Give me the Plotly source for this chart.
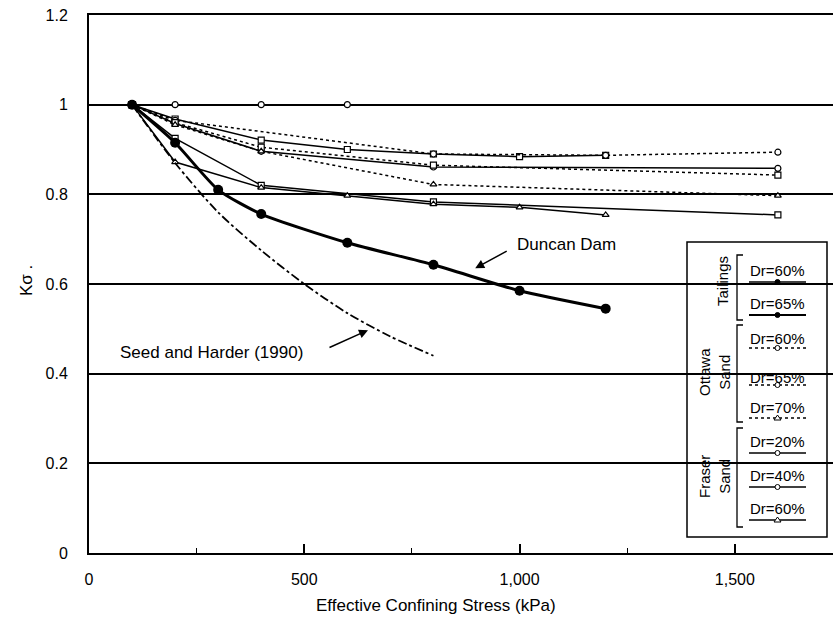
import plotly.graph_objects as go

# ---------------- data ----------------
duncan_x = [100, 200, 300, 400, 600, 800, 1000, 1200]
duncan_y = [1.0, 0.915, 0.81, 0.756, 0.692, 0.643, 0.585, 0.545]

seed_x = [100, 200, 300, 400, 500, 600, 700, 800]
seed_y = [1.0, 0.87, 0.76, 0.675, 0.6, 0.535, 0.483, 0.44]

tail60_x = [100, 200, 400, 600, 800, 1000, 1200]
tail60_y = [1.0, 0.968, 0.921, 0.90, 0.89, 0.884, 0.887]

tail65_x = [100, 200, 400, 800, 1600]
tail65_y = [1.0, 0.958, 0.896, 0.861, 0.858]

ott60_x = [100, 200, 800, 1200, 1600]
ott60_y = [1.0, 0.965, 0.89, 0.887, 0.894]

ott65_x = [100, 200, 400, 800, 1600]
ott65_y = [1.0, 0.96, 0.905, 0.865, 0.843]

ott70_x = [100, 200, 400, 800, 1600]
ott70_y = [1.0, 0.955, 0.896, 0.822, 0.797]

fr20_x = [100, 200, 400, 600]
fr20_y = [1.0, 1.0, 1.0, 1.0]

fr40_x = [100, 200, 400, 800, 1600]
fr40_y = [1.0, 0.925, 0.82, 0.783, 0.754]

fr60_x = [100, 200, 400, 600, 800, 1000, 1200]
fr60_y = [1.0, 0.872, 0.815, 0.797, 0.778, 0.771, 0.754]

y_ticks = [0, 0.2, 0.4, 0.6, 0.8, 1.0, 1.2]
y_ticktext = ["0", "0.2", "0.4", "0.6", "0.8", "1", "1.2"]
x_ticks = [0, 500, 1000, 1500]
x_ticktext = ["0", "500", "1,000", "1,500"]

legend_groups = ["Tailings", "Ottawa<br>Sand", "Fraser<br>Sand"]
legend_labels = ["Dr=60%", "Dr=65%", "Dr=60%", "Dr=65%", "Dr=70%", "Dr=20%", "Dr=40%", "Dr=60%"]

# ---------------- figure ----------------
W, H = 833, 634
L, R, T, B = 89, 0, 15, 81
FONT = "Liberation Sans, Arial, sans-serif"
INK = "#000000"

fig = go.Figure()

def thin(x, y, dash, symbol, name):
    fig.add_trace(go.Scatter(
        x=x, y=y, mode="lines+markers", name=name,
        line=dict(color=INK, width=1.5, dash=dash),
        marker=dict(symbol=symbol, size=6, color="white",
                    line=dict(color=INK, width=1.2)),
        showlegend=False))

thin(fr20_x, fr20_y, "solid", "circle", "Fraser Dr=20%")
thin(tail60_x, tail60_y, "solid", "square", "Tailings Dr=60%")
thin(tail65_x, tail65_y, "solid", "circle", "Tailings Dr=65%")
thin(ott60_x, ott60_y, "dot", "circle", "Ottawa Dr=60%")
thin(ott65_x, ott65_y, "dot", "square", "Ottawa Dr=65%")
thin(ott70_x, ott70_y, "dot", "triangle-up", "Ottawa Dr=70%")
thin(fr40_x, fr40_y, "solid", "square", "Fraser Dr=40%")
thin(fr60_x, fr60_y, "solid", "triangle-up", "Fraser Dr=60%")

fig.add_trace(go.Scatter(
    x=seed_x, y=seed_y, mode="lines", name="Seed and Harder (1990)",
    line=dict(color=INK, width=1.8, dash="dashdot", shape="spline", smoothing=0.8),
    showlegend=False))

fig.add_trace(go.Scatter(
    x=duncan_x, y=duncan_y, mode="lines+markers", name="Duncan Dam",
    line=dict(color=INK, width=3, shape="spline", smoothing=0.6),
    marker=dict(symbol="circle", size=10, color=INK),
    showlegend=False))

# ---------- helpers for layout positions (pixel -> paper) ----------
PW, PH = W - L - R, H - T - B
def px(X):
    return (X - L) / PW
def py(Y):
    return (H - B - Y) / PH

shapes = []
annotations = []

# legend box
shapes.append(dict(type="rect", xref="paper", yref="paper",
                   x0=px(687), x1=px(827), y0=py(537), y1=py(242),
                   line=dict(color=INK, width=1.5), fillcolor="rgba(0,0,0,0)"))

# brackets
for (ytop, ybot) in [(255, 320), (325, 422), (428, 527)]:
    path = "M {a},{b} L {c},{b} L {c},{d} L {a},{d}".format(
        a=px(743), b=py(ytop), c=px(737), d=py(ybot))
    shapes.append(dict(type="path", xref="paper", yref="paper", path=path,
                       line=dict(color=INK, width=1.3)))

# group labels
group_pos = [(722, 281), (714, 372), (714, 477)]
for txt, (gx, gy) in zip(legend_groups, group_pos):
    annotations.append(dict(xref="paper", yref="paper", x=px(gx), y=py(gy),
                            text=txt, showarrow=False, textangle=-90,
                            font=dict(family=FONT, size=15, color=INK),
                            xanchor="center", yanchor="middle"))

# legend entries
text_y = [270, 303, 338, 377, 407, 442, 475, 508]
line_y = [282, 315, 348, 385, 418, 453, 487, 520]
styles = [("solid", "dot", 1.4), ("solid", "dot", 2.2),
          ("dot", "circle", 1.4), ("dot", "circle", 1.4), ("dot", "tri", 1.4),
          ("solid", "circle", 1.4), ("solid", "circle", 1.4), ("solid", "tri", 1.4)]
for lab, ty, ly, (dash, mk, lw) in zip(legend_labels, text_y, line_y, styles):
    annotations.append(dict(xref="paper", yref="paper", x=px(777), y=py(ty),
                            text=lab, showarrow=False,
                            font=dict(family=FONT, size=15, color=INK),
                            xanchor="center", yanchor="middle"))
    shapes.append(dict(type="line", xref="paper", yref="paper",
                       x0=px(749), x1=px(806), y0=py(ly), y1=py(ly),
                       line=dict(color=INK, width=lw, dash=dash)))
    if mk == "dot":
        shapes.append(dict(type="circle", xref="paper", yref="paper",
                           x0=px(775), x1=px(780), y0=py(ly + 2.5), y1=py(ly - 2.5),
                           line=dict(color=INK, width=1), fillcolor=INK))
    elif mk == "circle":
        shapes.append(dict(type="circle", xref="paper", yref="paper",
                           x0=px(775), x1=px(780), y0=py(ly + 2.5), y1=py(ly - 2.5),
                           line=dict(color=INK, width=1), fillcolor="white"))
    else:
        path = "M {a},{b} L {c},{d} L {e},{b} Z".format(
            a=px(774), b=py(ly + 2), c=px(777.5), d=py(ly - 3), e=px(781))
        shapes.append(dict(type="path", xref="paper", yref="paper", path=path,
                           line=dict(color=INK, width=1), fillcolor="white"))

# curve labels and arrows
annotations.append(dict(x=990, y=0.687, xref="x", yref="y", text="Duncan Dam",
                        showarrow=False, xanchor="left", yanchor="middle",
                        font=dict(family=FONT, size=17, color=INK)))
annotations.append(dict(x=897, y=0.635, xref="x", yref="y", text="",
                        showarrow=True, ax=33, ay=-18, arrowhead=2,
                        arrowsize=1.2, arrowwidth=1.5, arrowcolor=INK))
annotations.append(dict(x=67, y=0.448, xref="x", yref="y",
                        text="Seed and Harder (1990)",
                        showarrow=False, xanchor="left", yanchor="middle",
                        font=dict(family=FONT, size=17, color=INK)))
annotations.append(dict(x=648, y=0.497, xref="x", yref="y", text="",
                        showarrow=True, ax=-40, ay=18, arrowhead=2,
                        arrowsize=1.2, arrowwidth=1.5, arrowcolor=INK))

# axis titles
annotations.append(dict(xref="paper", yref="paper", x=px(26), y=py(281),
                        text="Kσ .", textangle=-90, showarrow=False,
                        font=dict(family=FONT, size=17, color=INK),
                        xanchor="center", yanchor="middle"))
annotations.append(dict(xref="paper", yref="paper", x=px(436), y=py(605),
                        text="Effective Confining Stress (kPa)", showarrow=False,
                        font=dict(family=FONT, size=17, color=INK),
                        xanchor="center", yanchor="middle"))

fig.update_layout(
    width=W, height=H,
    margin=dict(l=L, r=R, t=T, b=B, pad=0),
    paper_bgcolor="white", plot_bgcolor="white",
    shapes=shapes, annotations=annotations,
    font=dict(family=FONT, color=INK),
    xaxis=dict(range=[0, 1728], tickvals=x_ticks, ticktext=x_ticktext,
               showgrid=False, zeroline=False,
               showline=True, linecolor=INK, linewidth=2, mirror=True,
               ticks="inside", ticklen=9, tickwidth=1.5, tickcolor=INK,
               minor=dict(ticks="inside", ticklen=5, tickwidth=1.2,
                          tickcolor=INK, dtick=250, tick0=0, showgrid=False),
               ticklabelstandoff=11,
               tickfont=dict(family=FONT, size=16, color=INK)),
    yaxis=dict(range=[0, 1.2], tickvals=y_ticks, ticktext=y_ticktext,
               showgrid=True, gridcolor=INK, gridwidth=1.5,
               zeroline=False, showline=True, linecolor=INK, linewidth=2,
               ticks="", ticklabelstandoff=16,
               tickfont=dict(family=FONT, size=16, color=INK)),
)

fig.write_html("out.html")
